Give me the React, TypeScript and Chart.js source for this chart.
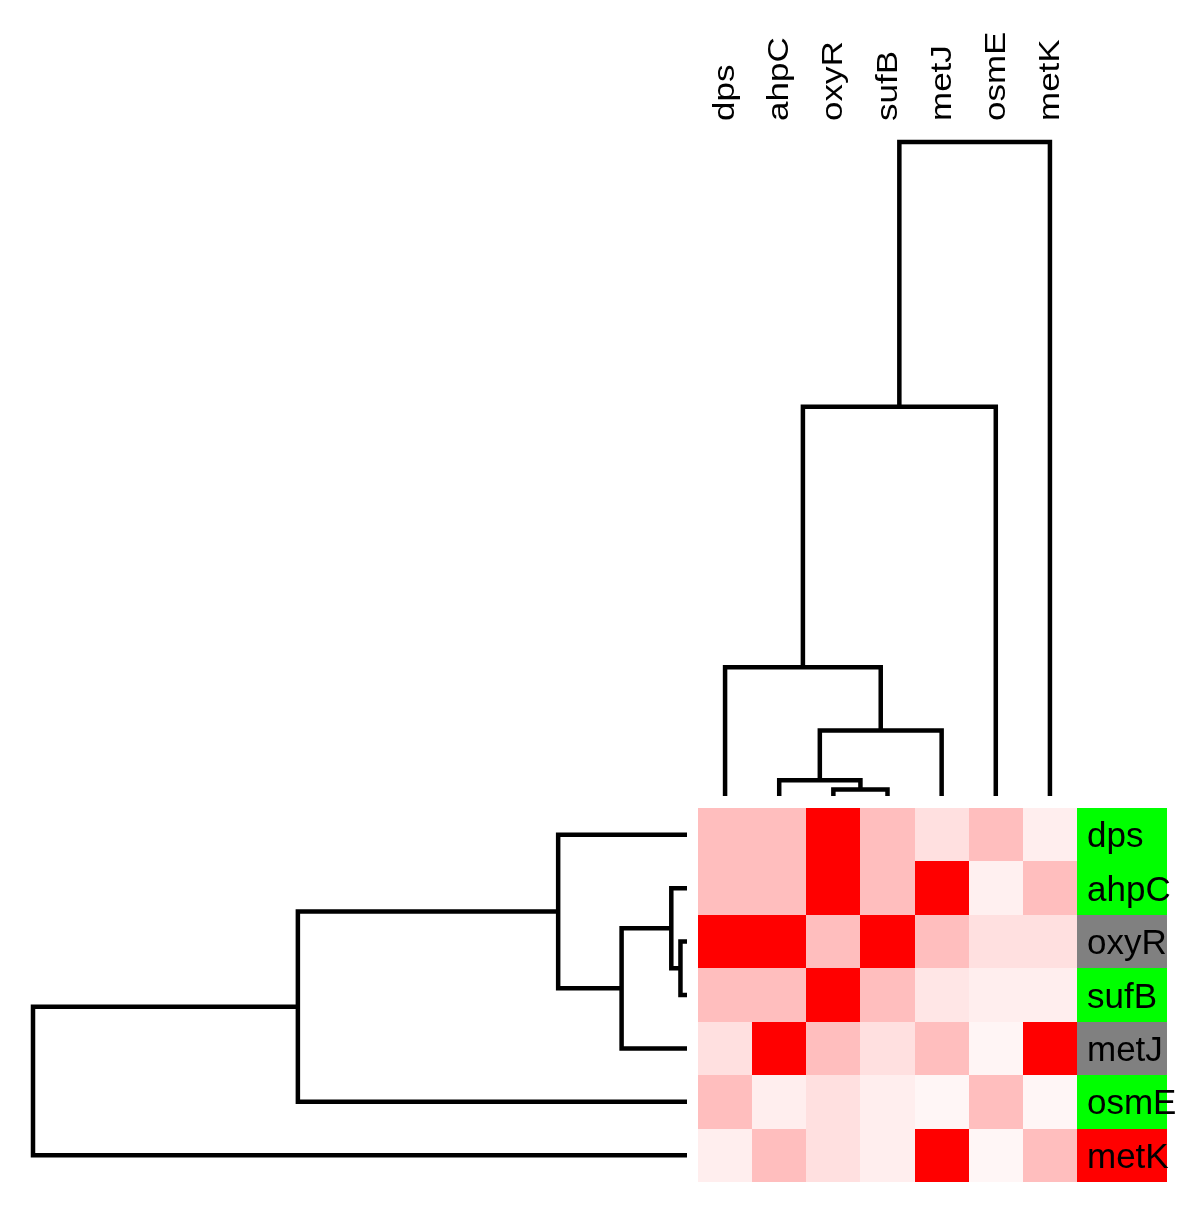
import React, { useEffect, useRef } from 'react';
import { Chart, registerables } from 'chart.js';

Chart.register(...registerables);

// ---------------- data ----------------
const genes = ['dps', 'ahpC', 'oxyR', 'sufB', 'metJ', 'osmE', 'metK'];

// heatmap intensities (0 = white, 1 = full red), one array per row
const dpsRow = [0.255, 0.255, 1, 0.255, 0.12, 0.255, 0.065];
const ahpCRow = [0.255, 0.255, 1, 0.255, 1, 0.06, 0.255];
const oxyRRow = [1, 1, 0.255, 1, 0.255, 0.12, 0.12];
const sufBRow = [0.255, 0.255, 1, 0.255, 0.1, 0.065, 0.065];
const metJRow = [0.12, 1, 0.255, 0.12, 0.255, 0.04, 1];
const osmERow = [0.255, 0.065, 0.12, 0.065, 0.035, 0.255, 0.035];
const metKRow = [0.065, 0.255, 0.12, 0.065, 1, 0.035, 0.255];
const heatRows = [dpsRow, ahpCRow, oxyRRow, sufBRow, metJRow, osmERow, metKRow];

// side annotation
const sideGroups = ['up', 'up', 'regulator', 'up', 'regulator', 'up', 'down'];
const groupColors: Record<string, string> = { up: '#00FF00', regulator: '#808080', down: '#FF0000' };

// hclust-style tree (negative = leaf index, positive = earlier merge), same for rows & columns
const mergeLeft = [-3, -2, 2, -1, 4, 5];
const mergeRight = [-4, 1, -5, 3, -6, -7];
const mergeHeights = [0.01, 0.024, 0.1, 0.197, 0.595, 1.0];

// ---------------- layout (pixels) ----------------
const W = 1200;
const H = 1208;
const HM_LEFT = 698;
const HM_RIGHT = 1077;
const HM_TOP = 808;
const HM_BOTTOM = 1182;
const SIDE_W = 90;
const LEFT_LEAF_X = 687;
const LEFT_ROOT_X = 33;
const TOP_LEAF_Y = 796;
const TOP_ROOT_Y = 142;
const FONT = '"Liberation Sans", Arial, Helvetica, sans-serif';

type Seg = { p: number; h: number }[];

function dendroSegments(): Seg[] {
  const pos: number[] = [];
  const ht: number[] = [];
  const cp = (id: number) => (id < 0 ? -id - 1 + 0.5 : pos[id - 1]);
  const ch = (id: number) => (id < 0 ? 0 : ht[id - 1]);
  const segs: Seg[] = [];
  for (let i = 0; i < mergeHeights.length; i++) {
    const a = mergeLeft[i];
    const b = mergeRight[i];
    const h = mergeHeights[i];
    const pa = cp(a);
    const pb = cp(b);
    segs.push([
      { p: pa, h: ch(a) },
      { p: pa, h },
      { p: pb, h },
      { p: pb, h: ch(b) },
    ]);
    pos.push((pa + pb) / 2);
    ht.push(h);
  }
  return segs;
}

const heatPlugin = {
  id: 'heatPlugin',
  beforeDatasetsDraw(chart: any) {
    const ctx = chart.ctx;
    const xs = chart.scales.x;
    const ys = chart.scales.y;
    const heat = chart.data.datasets.find((d: any) => d.label === 'heatmap');
    const side = chart.data.datasets.find((d: any) => d.label === 'side');
    ctx.save();
    for (const pt of heat.data) {
      const x0 = Math.round(xs.getPixelForValue(pt.x - 0.5));
      const x1 = Math.round(xs.getPixelForValue(pt.x + 0.5));
      const y0 = Math.round(ys.getPixelForValue(pt.y - 0.5));
      const y1 = Math.round(ys.getPixelForValue(pt.y + 0.5));
      const g = Math.round(255 * (1 - pt.v));
      ctx.fillStyle = `rgb(255,${g},${g})`;
      ctx.fillRect(x0, y0, x1 - x0, y1 - y0);
    }
    for (const pt of side.data) {
      const x0 = Math.round(xs.getPixelForValue(pt.x));
      const y0 = Math.round(ys.getPixelForValue(pt.y - 0.5));
      const y1 = Math.round(ys.getPixelForValue(pt.y + 0.5));
      ctx.fillStyle = groupColors[pt.g];
      ctx.fillRect(x0, y0, SIDE_W, y1 - y0);
      ctx.fillStyle = '#000';
      ctx.font = `35px ${FONT}`;
      ctx.textAlign = 'left';
      ctx.textBaseline = 'alphabetic';
      ctx.fillText(pt.label, x0 + 10, ys.getPixelForValue(pt.y) + 12.5);
    }
    // column labels (rotated)
    for (let c = 0; c < genes.length; c++) {
      const x = xs.getPixelForValue(c + 0.5) + 9;
      ctx.save();
      ctx.translate(x, 121);
      ctx.scale(0.82, 1);
      ctx.rotate(-Math.PI / 2);
      ctx.fillStyle = '#000';
      ctx.font = `35px ${FONT}`;
      ctx.textAlign = 'left';
      ctx.textBaseline = 'alphabetic';
      ctx.fillText(genes[c], 0, 0);
      ctx.restore();
    }
    ctx.restore();
  },
};

export default function App() {
  const ref = useRef<HTMLCanvasElement | null>(null);

  useEffect(() => {
    if (!ref.current) return;
    const segs = dendroSegments();
    const rootH = Math.max(...mergeHeights);

    const colPx = (HM_RIGHT - HM_LEFT) / genes.length;
    const rowPx = (HM_BOTTOM - HM_TOP) / genes.length;
    const dLeft = (LEFT_LEAF_X - LEFT_ROOT_X) / rootH;
    const dTop = (TOP_LEAF_Y - TOP_ROOT_Y) / rootH;

    const heatData: any[] = [];
    heatRows.forEach((row, r) =>
      row.forEach((v, c) => heatData.push({ x: c + 0.5, y: r + 0.5, v }))
    );
    const sideData = genes.map((g, r) => ({ x: genes.length, y: r + 0.5, g: sideGroups[r], label: g }));

    const lineStyle = {
      showLine: true,
      borderColor: '#000',
      borderWidth: 4.5,
      pointRadius: 0,
      tension: 0,
      clip: false as any,
      borderJoinStyle: 'miter' as const,
    };

    const datasets: any[] = [
      { label: 'heatmap', data: heatData, pointRadius: 0, showLine: false, xAxisID: 'x', yAxisID: 'y' },
      { label: 'side', data: sideData, pointRadius: 0, showLine: false, xAxisID: 'x', yAxisID: 'y' },
    ];
    segs.forEach((s, i) => {
      datasets.push({
        label: 'top' + i,
        data: s.map((q) => ({ x: q.p, y: q.h })),
        xAxisID: 'x',
        yAxisID: 'yh',
        ...lineStyle,
      });
      datasets.push({
        label: 'left' + i,
        data: s.map((q) => ({ x: q.h, y: q.p })),
        xAxisID: 'xh',
        yAxisID: 'y',
        ...lineStyle,
      });
    });

    const chart = new Chart(ref.current, {
      type: 'scatter',
      data: { datasets },
      options: {
        animation: false,
        responsive: false,
        devicePixelRatio: 1,
        events: [],
        layout: { padding: 0 },
        plugins: { legend: { display: false }, tooltip: { enabled: false } },
        scales: {
          x: {
            type: 'linear',
            axis: 'x',
            display: false,
            min: -HM_LEFT / colPx,
            max: (W - HM_LEFT) / colPx,
          },
          y: {
            type: 'linear',
            axis: 'y',
            display: false,
            reverse: true,
            min: -HM_TOP / rowPx,
            max: (H - HM_TOP) / rowPx,
          },
          xh: {
            type: 'linear',
            axis: 'x',
            display: false,
            reverse: true,
            min: (LEFT_LEAF_X - W) / dLeft,
            max: (LEFT_LEAF_X - W) / dLeft + W / dLeft,
          },
          yh: {
            type: 'linear',
            axis: 'y',
            display: false,
            min: (TOP_LEAF_Y - H) / dTop,
            max: (TOP_LEAF_Y - H) / dTop + H / dTop,
          },
        },
      } as any,
      plugins: [heatPlugin],
    });
    return () => chart.destroy();
  }, []);

  return (
    <div style={{ position: 'fixed', left: 0, top: 0, width: W, height: H, background: '#fff' }}>
      <canvas ref={ref} width={W} height={H} style={{ display: 'block' }} />
    </div>
  );
}
